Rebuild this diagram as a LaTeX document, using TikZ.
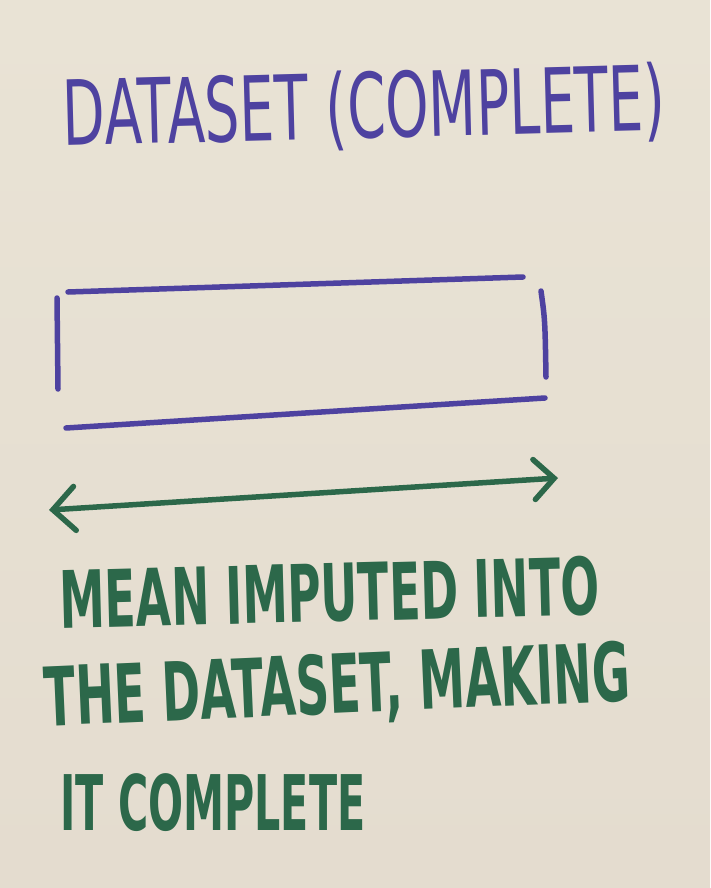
\documentclass[tikz,border=0pt]{standalone}
\usepackage{fontspec}
\usepackage{graphicx}
\setmainfont{DejaVu Sans}
\usetikzlibrary{arrows.meta}
\definecolor{paper}{RGB}{233,227,213}
\definecolor{paperlow}{RGB}{228,220,207}
\definecolor{pen}{RGB}{78,66,160}
\definecolor{ink}{RGB}{44,104,74}
\tikzset{
  penline/.style={draw=pen, line width=5.5pt, line cap=round},
  inkline/.style={draw=ink, line width=5.5pt, line cap=round},
  headtext/.style={text=pen, inner sep=0pt, anchor=south west},
  bodytext/.style={text=ink, inner sep=0pt, anchor=south west},
}
\begin{document}
\begin{tikzpicture}[x=1pt,y=-1pt]
\shade[top color=paper, bottom color=paperlow] (0,0) rectangle (710,888);
\useasboundingbox (0,0) rectangle (710,888);
% title
\node[headtext, rotate=1.5] (title) at (64,158) {\resizebox*{602pt}{80pt}{DATASET (COMPLETE)}};
% open box
\coordinate (tl) at (68,292);
\coordinate (tr) at (523,277);
\coordinate (lt) at (57,298);
\coordinate (lb) at (58,389);
\coordinate (rt) at (541,291);
\coordinate (rb) at (546,377);
\coordinate (bl) at (66,428);
\coordinate (br) at (545,398);
\draw[penline] (tl) -- (tr);
\draw[penline] (lt) -- (lb);
\draw[penline] (rt) .. controls (545,320) .. (rb);
\draw[penline] (bl) -- (br);
% arrow
\coordinate (al) at (49,510);
\coordinate (ar) at (558,478);
\draw[inkline, {Straight Barb[length=22pt,width=44pt,line cap=round]}-{Straight Barb[length=20pt,width=40pt,line cap=round]}] (al) -- (ar);
% body text
\node[bodytext, rotate=1.5] (l1) at (60,630) {\resizebox*{540pt}{60pt}{\bfseries MEAN IMPUTED INTO}};
\node[bodytext, rotate=2.5] (l2) at (46,738) {\resizebox*{586pt}{72pt}{\bfseries THE DATASET, MAKING}};
\node[bodytext] (l3) at (60,832) {\resizebox*{305pt}{58pt}{\bfseries IT COMPLETE}};
\end{tikzpicture}
\end{document}
